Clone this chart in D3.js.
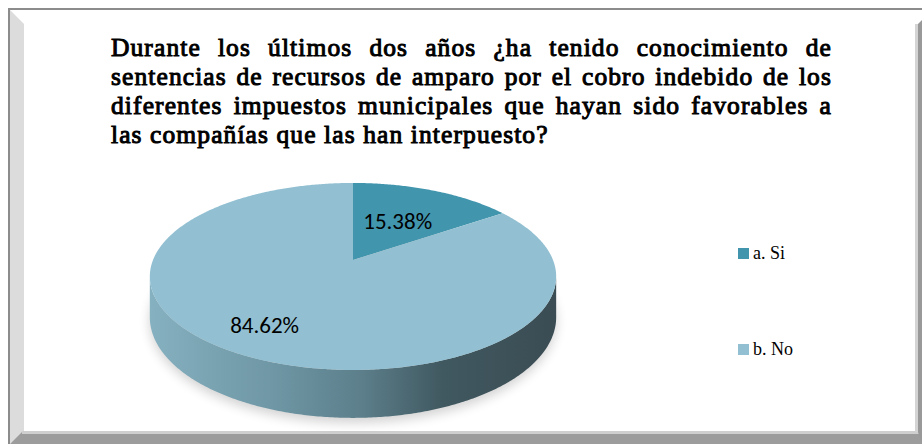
<!DOCTYPE html>
<html>
<head>
<meta charset="utf-8">
<script src="https://cdn.jsdelivr.net/npm/d3@7"></script>
<style>
  body { margin: 0; background: #fff; }
  svg { display: block; }
</style>
</head>
<body>
<div id="chart"></div>
<script>
// chart data
const categories = ["a. Si", "b. No"];
const values = [15.38, 84.62];
const valueLabels = ["15.38%", "84.62%"];
const titleLines = [
  "Durante los últimos dos años ¿ha tenido conocimiento de",
  "sentencias de recursos de amparo por el cobro indebido de los",
  "diferentes impuestos municipales que hayan sido favorables a",
  "las compañías que las han interpuesto?"
];

const width = 922;
const height = 444;
const colors = ["#4195ad", "#92c0d2"];
const serif = "'Liberation Serif', 'Times New Roman', serif";

const svg = d3.select("#chart")
  .append("svg")
  .attr("width", width)
  .attr("height", height);

const defs = svg.append("defs");

// frame (bevelled border like the office chart area)
svg.append("rect").attr("x", 8).attr("y", 8).attr("width", 914).attr("height", 2).attr("fill", "#8c8c8c");
svg.append("rect").attr("x", 8).attr("y", 8).attr("width", 2).attr("height", 436).attr("fill", "#8c8c8c");
svg.append("polygon").attr("points", "10,10 24,24 24,432 10,444").attr("fill", "#dcdcdc");
svg.append("polygon").attr("points", "10,444 22,432 922,432 922,444").attr("fill", "#9c9c9c");
svg.append("rect").attr("x", 22).attr("y", 431).attr("width", 900).attr("height", 3).attr("fill", "#cfcfcf");
svg.append("polygon").attr("points", "918,24 922,20 922,444 918,432").attr("fill", "#999999");
svg.append("rect").attr("x", 915).attr("y", 24).attr("width", 3).attr("height", 408).attr("fill", "#d4d4d4");

// title, justified on the first lines (bold drawn with a thin stroke)
const titleLeft = 111, titleRight = 832;
const title = svg.append("g")
  .style("font-family", serif)
  .style("font-size", "25.5px")
  .style("letter-spacing", "1.1px")
  .attr("fill", "#000")
  .attr("stroke", "#000")
  .attr("stroke-width", 1);

titleLines.forEach((line, i) => {
  const t = title.append("text")
    .attr("x", titleLeft)
    .attr("y", 56 + i * 29)
    .text(line);
  if (i < titleLines.length - 1) {
    const natural = t.node().getComputedTextLength();
    const gaps = line.split(" ").length - 1;
    t.style("word-spacing", ((titleRight - titleLeft - natural) / gaps) + "px");
  }
});

// 3d pie projection
const cx = 353, cy = 260;
const sx = 200, sy = 90.6, persp = 0.176, depth = 39.5;

function proj(theta, r, drop) {
  const u = r * Math.sin(theta);
  const v = r * Math.cos(theta);
  const w = 1 + persp * v;
  return [cx + sx * u / w, cy - sy * v / w + drop / w];
}

const pie = d3.pie().sort(null).value(d => d);
const arcs = pie(values);
const line = d3.line();

function sampleArc(a0, a1, drop) {
  const n = Math.max(2, Math.ceil((a1 - a0) / 0.01));
  return d3.range(n + 1).map(i => proj(a0 + (a1 - a0) * i / n, 1, drop));
}

// soft shadow
defs.append("filter").attr("id", "blur")
  .attr("x", "-20%").attr("y", "-50%").attr("width", "140%").attr("height", "200%")
  .append("feGaussianBlur").attr("stdDeviation", 6);

const shadowPts = sampleArc(0, 2 * Math.PI, depth + 4);
svg.append("path")
  .attr("d", line(shadowPts) + "Z")
  .attr("fill", "#000")
  .attr("opacity", 0.18)
  .attr("filter", "url(#blur)");

// side gradient
const grad = defs.append("linearGradient")
  .attr("id", "side")
  .attr("gradientUnits", "userSpaceOnUse")
  .attr("x1", cx - sx - 5).attr("x2", cx + sx + 5)
  .attr("y1", 0).attr("y2", 0);
[[0, "#86b1c0"], [0.3, "#6f97a5"], [0.52, "#5c7f8b"], [0.72, "#405860"], [1, "#3b4c53"]]
  .forEach(([o, c]) => grad.append("stop").attr("offset", o).attr("stop-color", c));

// visible side of each slice (front part between the silhouette angles)
const silA = Math.acos(-persp), silB = 2 * Math.PI - Math.acos(-persp);
arcs.forEach(a => {
  const a0 = Math.max(a.startAngle, silA);
  const a1 = Math.min(a.endAngle, silB);
  if (a1 <= a0) return;
  const top = sampleArc(a0, a1, 0);
  const bottom = sampleArc(a0, a1, depth).reverse();
  svg.append("path")
    .attr("d", line(top.concat(bottom)) + "Z")
    .attr("fill", "url(#side)");
});

// top faces
svg.selectAll(".slice")
  .data(arcs)
  .enter()
  .append("path")
    .attr("class", "slice")
    .attr("d", a => line([proj(0, 0, 0)].concat(sampleArc(a.startAngle, a.endAngle, 0))) + "Z")
    .attr("fill", (a, i) => colors[i]);

// data labels
const labelR = [0.52, 0.72];
const labelDx = [0, -13];
svg.selectAll(".lbl")
  .data(arcs)
  .enter()
  .append("text")
    .attr("class", "lbl")
    .attr("x", (a, i) => proj((a.startAngle + a.endAngle) / 2, labelR[i], 0)[0] + labelDx[i])
    .attr("y", (a, i) => proj((a.startAngle + a.endAngle) / 2, labelR[i], 0)[1])
    .attr("text-anchor", "middle")
    .attr("dominant-baseline", "central")
    .attr("font-family", "Carlito, Calibri, 'Noto Sans', sans-serif")
    .attr("font-size", 23)
    .attr("fill", "#000")
    .text((a, i) => valueLabels[i]);

// legend
const legendY = d3.scalePoint().domain(categories).range([254, 350]);
const legend = svg.selectAll(".leg")
  .data(categories)
  .enter()
  .append("g")
    .attr("class", "leg")
    .attr("transform", d => `translate(738, ${legendY(d)})`);

legend.append("rect")
  .attr("x", 0).attr("y", -6)
  .attr("width", 11).attr("height", 11)
  .attr("fill", (d, i) => colors[i]);

legend.append("text")
  .attr("x", 15).attr("y", 5)
  .style("font-family", serif)
  .style("font-size", "18px")
  .attr("fill", "#000")
  .text(d => d);
</script>
</body>
</html>
